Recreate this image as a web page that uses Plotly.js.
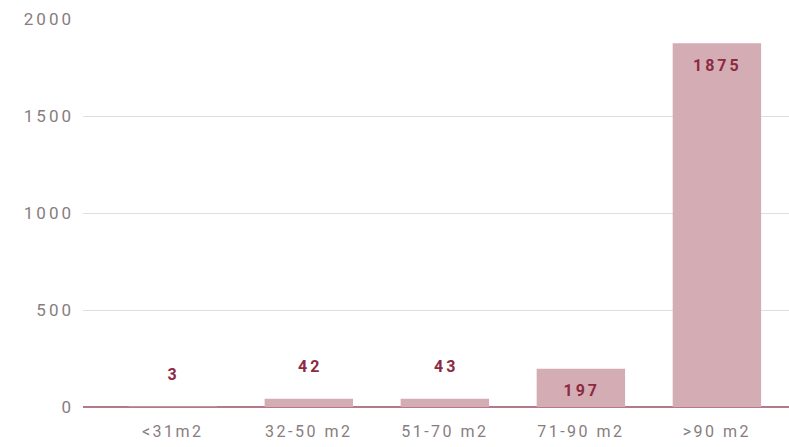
<!DOCTYPE html>
<html>
<head>
<meta charset="utf-8">
<script src="https://cdn.plot.ly/plotly-3.0.1.min.js"></script>
<style>
html,body{margin:0;padding:0;background:#fff;}
#chart{width:789px;height:447px;}
#chart .xtick text{letter-spacing:2.5px;}
#chart .ytick text{letter-spacing:3px;}
#chart .annotation-text{letter-spacing:3px;}
</style>
</head>
<body>
<div id="chart"></div>
<script>
const categories = ["<31m2", "32-50 m2", "51-70 m2", "71-90 m2", ">90 m2"];
const values = [3, 42, 43, 197, 1875];
const yTicks = [0, 500, 1000, 1500, 2000];
const labelOutside = [true, true, true, false, false];

const barColor = "#d3adb3";
const labelColor = "#8c2a42";

const trace = {
  type: "bar",
  x: categories,
  y: values,
  marker: {color: barColor},
  width: 0.65,
  hoverinfo: "none"
};

const annotations = values.map((v, i) => ({
  x: categories[i],
  y: v,
  xref: "x",
  yref: "y",
  text: String(v),
  showarrow: false,
  yanchor: "middle",
  xshift: 1,
  yshift: labelOutside[i] ? 32 : -22,
  font: {family: "Roboto, sans-serif", size: 16, color: labelColor, weight: "bold"}
}));

const layout = {
  width: 789,
  height: 447,
  margin: {l: 83, r: 0, t: 19, b: 40},
  paper_bgcolor: "#fff",
  plot_bgcolor: "#fff",
  showlegend: false,
  xaxis: {
    type: "category",
    range: [-0.66, 4.53],
    showgrid: false,
    showline: false,
    zeroline: false,
    ticks: "",
    ticklabelstandoff: 13,
    tickfont: {family: "Roboto, sans-serif", size: 16, color: "#877d80"}
  },
  yaxis: {
    range: [0, 2000],
    tickvals: yTicks,
    ticktext: yTicks.map(String),
    showgrid: true,
    gridcolor: "#dedede",
    gridwidth: 1,
    zeroline: true,
    zerolinecolor: "#b57a88",
    zerolinewidth: 2,
    showline: false,
    ticks: "",
    ticklabelstandoff: 8,
    tickfont: {family: "Roboto, sans-serif", size: 17, color: "#877d80"}
  },
  annotations: annotations
};

Plotly.newPlot("chart", [trace], layout, {displayModeBar: false, staticPlot: true});
</script>
</body>
</html>
